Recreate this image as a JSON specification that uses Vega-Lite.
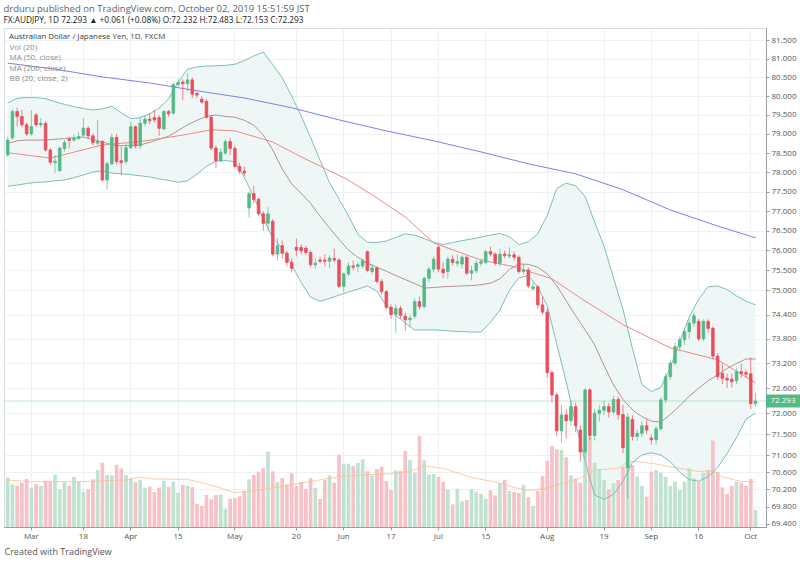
{
  "$schema": "https://vega.github.io/schema/vega-lite/v6.json",
  "width": 762,
  "height": 499,
  "autosize": {"type": "none"},
  "padding": {"left": 4, "top": 28, "right": 34, "bottom": 38},
  "background": "white",
  "title": {
    "text": "drduru published on TradingView.com, October 02, 2019 15:51:59 JST",
    "subtitle": "FX:AUDJPY, 1D  72.293 ▲ +0.061 (+0.08%)  O:72.232  H:72.483  L:72.153  C:72.293",
    "anchor": "start",
    "offset": 4,
    "font": "Open Sans",
    "fontSize": 9.5,
    "fontWeight": "normal",
    "color": "#5d606b",
    "subtitleFont": "Open Sans",
    "subtitleFontSize": 8.3,
    "subtitleFontWeight": "normal",
    "subtitleColor": "#222222",
    "subtitlePadding": 2
  },
  "datasets": {
    "candles": [
      {"d":"2019-02-22","o":78.45,"h":78.92,"l":78.40,"c":78.84,"v":49300},
      {"d":"2019-02-25","o":78.90,"h":79.65,"l":78.85,"c":79.59,"v":42700},
      {"d":"2019-02-26","o":79.59,"h":79.70,"l":79.20,"c":79.46,"v":41000},
      {"d":"2019-02-27","o":79.46,"h":79.63,"l":79.18,"c":79.24,"v":44300},
      {"d":"2019-02-28","o":79.24,"h":79.30,"l":78.95,"c":79.00,"v":48000},
      {"d":"2019-03-01","o":79.00,"h":79.63,"l":78.95,"c":79.19,"v":39300},
      {"d":"2019-03-04","o":79.50,"h":79.55,"l":79.18,"c":79.24,"v":43000},
      {"d":"2019-03-05","o":79.24,"h":79.42,"l":79.17,"c":79.28,"v":41300},
      {"d":"2019-03-06","o":79.28,"h":79.33,"l":78.54,"c":78.58,"v":46300},
      {"d":"2019-03-07","o":78.58,"h":78.63,"l":78.19,"c":78.26,"v":45300},
      {"d":"2019-03-08","o":78.25,"h":78.45,"l":77.98,"c":78.29,"v":52300},
      {"d":"2019-03-11","o":78.04,"h":78.67,"l":78.02,"c":78.63,"v":37700},
      {"d":"2019-03-12","o":78.62,"h":78.84,"l":78.54,"c":78.77,"v":44700},
      {"d":"2019-03-13","o":78.87,"h":78.93,"l":78.63,"c":78.83,"v":41300},
      {"d":"2019-03-14","o":78.84,"h":79.00,"l":78.80,"c":78.89,"v":50000},
      {"d":"2019-03-15","o":78.88,"h":79.05,"l":78.85,"c":78.93,"v":45300},
      {"d":"2019-03-18","o":78.97,"h":79.42,"l":78.93,"c":79.15,"v":35300},
      {"d":"2019-03-19","o":79.15,"h":79.20,"l":78.88,"c":78.95,"v":37700},
      {"d":"2019-03-20","o":78.95,"h":79.02,"l":78.70,"c":78.77,"v":47700},
      {"d":"2019-03-21","o":78.76,"h":79.37,"l":78.69,"c":78.81,"v":57000},
      {"d":"2019-03-22","o":78.80,"h":78.84,"l":77.76,"c":77.80,"v":64300},
      {"d":"2019-03-25","o":77.80,"h":78.28,"l":77.56,"c":78.22,"v":52000},
      {"d":"2019-03-26","o":78.22,"h":79.00,"l":78.18,"c":78.91,"v":51700},
      {"d":"2019-03-27","o":78.91,"h":79.00,"l":78.20,"c":78.28,"v":62300},
      {"d":"2019-03-28","o":78.30,"h":78.67,"l":77.93,"c":78.25,"v":58700},
      {"d":"2019-03-29","o":78.28,"h":78.75,"l":78.20,"c":78.64,"v":52000},
      {"d":"2019-04-01","o":78.64,"h":79.33,"l":78.60,"c":79.19,"v":48700},
      {"d":"2019-04-02","o":79.19,"h":79.22,"l":78.62,"c":78.69,"v":44700},
      {"d":"2019-04-03","o":78.69,"h":79.45,"l":78.60,"c":79.28,"v":47300},
      {"d":"2019-04-04","o":79.28,"h":79.50,"l":79.20,"c":79.39,"v":39300},
      {"d":"2019-04-05","o":79.39,"h":79.55,"l":79.25,"c":79.35,"v":40300},
      {"d":"2019-04-08","o":79.43,"h":79.63,"l":79.30,"c":79.37,"v":35000},
      {"d":"2019-04-09","o":79.43,"h":79.50,"l":78.95,"c":79.15,"v":39300},
      {"d":"2019-04-10","o":79.13,"h":79.63,"l":79.10,"c":79.59,"v":46300},
      {"d":"2019-04-11","o":79.59,"h":79.63,"l":79.45,"c":79.53,"v":40000},
      {"d":"2019-04-12","o":79.55,"h":80.36,"l":79.50,"c":80.31,"v":45300},
      {"d":"2019-04-15","o":80.31,"h":80.45,"l":80.25,"c":80.36,"v":34300},
      {"d":"2019-04-16","o":80.37,"h":80.45,"l":79.90,"c":80.33,"v":42000},
      {"d":"2019-04-17","o":80.33,"h":80.62,"l":80.12,"c":80.43,"v":41000},
      {"d":"2019-04-18","o":80.43,"h":80.50,"l":79.95,"c":80.05,"v":39700},
      {"d":"2019-04-19","o":80.07,"h":80.12,"l":79.95,"c":80.03,"v":23300},
      {"d":"2019-04-22","o":79.92,"h":80.00,"l":79.80,"c":79.84,"v":21000},
      {"d":"2019-04-23","o":79.86,"h":79.92,"l":79.40,"c":79.44,"v":32000},
      {"d":"2019-04-24","o":79.44,"h":79.50,"l":78.57,"c":78.63,"v":27700},
      {"d":"2019-04-25","o":78.63,"h":78.70,"l":78.11,"c":78.30,"v":32000},
      {"d":"2019-04-26","o":78.30,"h":78.62,"l":78.25,"c":78.52,"v":32300},
      {"d":"2019-04-29","o":78.50,"h":78.85,"l":78.45,"c":78.80,"v":18300},
      {"d":"2019-04-30","o":78.80,"h":78.90,"l":78.45,"c":78.62,"v":28300},
      {"d":"2019-05-01","o":78.62,"h":78.70,"l":78.10,"c":78.15,"v":29000},
      {"d":"2019-05-02","o":78.15,"h":78.25,"l":77.95,"c":78.03,"v":30700},
      {"d":"2019-05-03","o":78.03,"h":78.15,"l":77.90,"c":77.98,"v":36300},
      {"d":"2019-05-06","o":77.08,"h":77.50,"l":76.83,"c":77.45,"v":47700},
      {"d":"2019-05-07","o":77.45,"h":77.65,"l":77.20,"c":77.30,"v":52000},
      {"d":"2019-05-08","o":77.30,"h":77.35,"l":76.88,"c":76.93,"v":55300},
      {"d":"2019-05-09","o":76.93,"h":77.00,"l":76.50,"c":76.69,"v":59000},
      {"d":"2019-05-10","o":76.69,"h":77.10,"l":76.50,"c":76.93,"v":75300},
      {"d":"2019-05-13","o":76.74,"h":76.80,"l":75.85,"c":75.91,"v":55700},
      {"d":"2019-05-14","o":75.91,"h":76.30,"l":75.75,"c":76.12,"v":45000},
      {"d":"2019-05-15","o":76.12,"h":76.25,"l":75.80,"c":75.93,"v":49000},
      {"d":"2019-05-16","o":75.93,"h":76.00,"l":75.60,"c":75.70,"v":42700},
      {"d":"2019-05-17","o":75.70,"h":75.80,"l":75.45,"c":75.55,"v":53700},
      {"d":"2019-05-20","o":76.08,"h":76.30,"l":75.85,"c":76.01,"v":41000},
      {"d":"2019-05-21","o":76.08,"h":76.15,"l":75.90,"c":75.99,"v":45000},
      {"d":"2019-05-22","o":76.06,"h":76.12,"l":75.88,"c":75.95,"v":38300},
      {"d":"2019-05-23","o":75.95,"h":76.00,"l":75.58,"c":75.64,"v":48700},
      {"d":"2019-05-24","o":75.64,"h":75.80,"l":75.55,"c":75.68,"v":39300},
      {"d":"2019-05-27","o":75.76,"h":75.85,"l":75.68,"c":75.73,"v":28000},
      {"d":"2019-05-28","o":75.76,"h":75.90,"l":75.60,"c":75.73,"v":47000},
      {"d":"2019-05-29","o":75.73,"h":75.88,"l":75.55,"c":75.81,"v":51700},
      {"d":"2019-05-30","o":75.80,"h":76.05,"l":75.70,"c":75.76,"v":44300},
      {"d":"2019-05-31","o":75.76,"h":75.80,"l":75.05,"c":75.10,"v":72300},
      {"d":"2019-06-03","o":75.10,"h":75.45,"l":74.95,"c":75.41,"v":63300},
      {"d":"2019-06-04","o":75.41,"h":75.70,"l":75.35,"c":75.61,"v":63300},
      {"d":"2019-06-05","o":75.61,"h":75.75,"l":75.50,"c":75.58,"v":61000},
      {"d":"2019-06-06","o":75.60,"h":75.70,"l":75.45,"c":75.64,"v":64000},
      {"d":"2019-06-07","o":75.61,"h":75.80,"l":75.55,"c":75.74,"v":67700},
      {"d":"2019-06-10","o":75.97,"h":76.00,"l":75.45,"c":75.50,"v":55700},
      {"d":"2019-06-11","o":75.47,"h":75.65,"l":75.40,"c":75.56,"v":51300},
      {"d":"2019-06-12","o":75.56,"h":75.60,"l":75.18,"c":75.22,"v":58000},
      {"d":"2019-06-13","o":75.22,"h":75.28,"l":74.90,"c":74.97,"v":60300},
      {"d":"2019-06-14","o":74.97,"h":75.00,"l":74.52,"c":74.58,"v":46000},
      {"d":"2019-06-17","o":74.58,"h":74.65,"l":74.30,"c":74.40,"v":37000},
      {"d":"2019-06-18","o":74.40,"h":74.65,"l":73.94,"c":74.55,"v":56700},
      {"d":"2019-06-19","o":74.55,"h":74.62,"l":74.30,"c":74.38,"v":56000},
      {"d":"2019-06-20","o":74.36,"h":74.45,"l":74.00,"c":74.27,"v":76000},
      {"d":"2019-06-21","o":74.27,"h":74.40,"l":74.10,"c":74.31,"v":67000},
      {"d":"2019-06-24","o":74.36,"h":74.80,"l":74.30,"c":74.72,"v":54300},
      {"d":"2019-06-25","o":74.72,"h":74.85,"l":74.52,"c":74.60,"v":91000},
      {"d":"2019-06-26","o":74.60,"h":75.35,"l":74.55,"c":75.30,"v":66700},
      {"d":"2019-06-27","o":75.30,"h":75.60,"l":75.20,"c":75.53,"v":52300},
      {"d":"2019-06-28","o":75.53,"h":75.85,"l":75.45,"c":75.78,"v":53000},
      {"d":"2019-07-01","o":76.08,"h":76.14,"l":75.45,"c":75.53,"v":50300},
      {"d":"2019-07-02","o":75.53,"h":75.70,"l":75.30,"c":75.44,"v":45000},
      {"d":"2019-07-03","o":75.47,"h":75.85,"l":75.30,"c":75.78,"v":37300},
      {"d":"2019-07-04","o":75.78,"h":75.88,"l":75.62,"c":75.70,"v":22700},
      {"d":"2019-07-05","o":75.68,"h":75.90,"l":75.60,"c":75.72,"v":38300},
      {"d":"2019-07-08","o":75.66,"h":75.88,"l":75.55,"c":75.83,"v":25700},
      {"d":"2019-07-09","o":75.83,"h":75.88,"l":75.38,"c":75.43,"v":27000},
      {"d":"2019-07-10","o":75.43,"h":75.62,"l":75.25,"c":75.49,"v":38000},
      {"d":"2019-07-11","o":75.49,"h":75.75,"l":75.42,"c":75.68,"v":35300},
      {"d":"2019-07-12","o":75.68,"h":75.80,"l":75.60,"c":75.72,"v":33300},
      {"d":"2019-07-15","o":75.70,"h":76.02,"l":75.65,"c":75.97,"v":28000},
      {"d":"2019-07-16","o":75.97,"h":76.10,"l":75.85,"c":75.91,"v":36700},
      {"d":"2019-07-17","o":75.91,"h":75.95,"l":75.62,"c":75.68,"v":31700},
      {"d":"2019-07-18","o":75.68,"h":76.05,"l":75.60,"c":75.91,"v":44000},
      {"d":"2019-07-19","o":75.91,"h":76.00,"l":75.80,"c":75.87,"v":47000},
      {"d":"2019-07-22","o":75.86,"h":76.08,"l":75.80,"c":75.89,"v":36000},
      {"d":"2019-07-23","o":75.89,"h":75.98,"l":75.75,"c":75.83,"v":35000},
      {"d":"2019-07-24","o":75.83,"h":75.88,"l":75.42,"c":75.47,"v":34300},
      {"d":"2019-07-25","o":75.47,"h":75.65,"l":75.40,"c":75.51,"v":42000},
      {"d":"2019-07-26","o":75.51,"h":75.58,"l":75.05,"c":75.11,"v":29700},
      {"d":"2019-07-29","o":75.04,"h":75.20,"l":74.98,"c":75.09,"v":21000},
      {"d":"2019-07-30","o":75.09,"h":75.12,"l":74.55,"c":74.64,"v":36300},
      {"d":"2019-07-31","o":74.64,"h":74.85,"l":74.40,"c":74.46,"v":51000},
      {"d":"2019-08-01","o":74.46,"h":74.55,"l":72.85,"c":72.98,"v":66300},
      {"d":"2019-08-02","o":72.98,"h":73.05,"l":72.25,"c":72.44,"v":81000},
      {"d":"2019-08-05","o":72.44,"h":72.50,"l":71.45,"c":71.58,"v":77700},
      {"d":"2019-08-06","o":71.58,"h":72.20,"l":71.30,"c":71.96,"v":77000},
      {"d":"2019-08-07","o":71.96,"h":72.10,"l":71.40,"c":71.82,"v":69700},
      {"d":"2019-08-08","o":71.82,"h":72.30,"l":71.70,"c":72.16,"v":51700},
      {"d":"2019-08-09","o":72.16,"h":72.25,"l":71.55,"c":71.70,"v":48300},
      {"d":"2019-08-12","o":71.60,"h":71.70,"l":70.85,"c":71.08,"v":44300},
      {"d":"2019-08-13","o":71.08,"h":72.60,"l":70.95,"c":72.56,"v":90300},
      {"d":"2019-08-14","o":72.56,"h":72.60,"l":71.35,"c":71.47,"v":90300},
      {"d":"2019-08-15","o":71.47,"h":72.10,"l":71.35,"c":72.00,"v":64300},
      {"d":"2019-08-16","o":72.00,"h":72.20,"l":71.80,"c":72.07,"v":57000},
      {"d":"2019-08-19","o":72.07,"h":72.30,"l":71.95,"c":72.16,"v":47000},
      {"d":"2019-08-20","o":72.16,"h":72.25,"l":71.90,"c":72.03,"v":37700},
      {"d":"2019-08-21","o":72.03,"h":72.42,"l":71.98,"c":72.33,"v":43700},
      {"d":"2019-08-22","o":72.33,"h":72.40,"l":71.85,"c":71.97,"v":47000},
      {"d":"2019-08-23","o":71.97,"h":72.20,"l":71.05,"c":71.18,"v":60300},
      {"d":"2019-08-26","o":70.71,"h":72.00,"l":70.00,"c":71.91,"v":93700},
      {"d":"2019-08-27","o":71.85,"h":71.95,"l":71.35,"c":71.45,"v":62000},
      {"d":"2019-08-28","o":71.45,"h":71.62,"l":71.35,"c":71.52,"v":50300},
      {"d":"2019-08-29","o":71.52,"h":71.80,"l":71.45,"c":71.70,"v":41000},
      {"d":"2019-08-30","o":71.70,"h":71.85,"l":71.50,"c":71.60,"v":30300},
      {"d":"2019-09-02","o":71.41,"h":71.50,"l":71.25,"c":71.37,"v":55300},
      {"d":"2019-09-03","o":71.37,"h":71.70,"l":71.25,"c":71.63,"v":57000},
      {"d":"2019-09-04","o":71.63,"h":72.38,"l":71.58,"c":72.32,"v":54300},
      {"d":"2019-09-05","o":72.32,"h":72.95,"l":72.25,"c":72.88,"v":50300},
      {"d":"2019-09-06","o":72.88,"h":73.28,"l":72.80,"c":73.21,"v":41000},
      {"d":"2019-09-09","o":73.21,"h":73.70,"l":73.15,"c":73.61,"v":45300},
      {"d":"2019-09-10","o":73.61,"h":73.85,"l":73.50,"c":73.78,"v":37000},
      {"d":"2019-09-11","o":73.78,"h":74.05,"l":73.65,"c":73.98,"v":45300},
      {"d":"2019-09-12","o":73.98,"h":74.28,"l":73.80,"c":74.19,"v":58700},
      {"d":"2019-09-13","o":74.19,"h":74.45,"l":74.10,"c":74.37,"v":48700},
      {"d":"2019-09-16","o":74.23,"h":74.30,"l":73.75,"c":73.80,"v":45300},
      {"d":"2019-09-17","o":73.80,"h":74.28,"l":73.75,"c":74.23,"v":54300},
      {"d":"2019-09-18","o":74.23,"h":74.28,"l":73.95,"c":74.06,"v":57000},
      {"d":"2019-09-19","o":74.06,"h":74.10,"l":73.30,"c":73.38,"v":86300},
      {"d":"2019-09-20","o":73.38,"h":73.45,"l":72.80,"c":72.88,"v":55300},
      {"d":"2019-09-23","o":72.96,"h":73.20,"l":72.70,"c":72.84,"v":39700},
      {"d":"2019-09-24","o":72.84,"h":72.95,"l":72.60,"c":72.80,"v":33000},
      {"d":"2019-09-25","o":72.82,"h":72.95,"l":72.62,"c":72.76,"v":41000},
      {"d":"2019-09-26","o":72.78,"h":73.10,"l":72.70,"c":73.00,"v":45300},
      {"d":"2019-09-27","o":73.00,"h":73.20,"l":72.85,"c":72.96,"v":44300},
      {"d":"2019-09-30","o":72.98,"h":73.05,"l":72.85,"c":72.94,"v":41000},
      {"d":"2019-10-01","o":72.95,"h":73.35,"l":72.10,"c":72.23,"v":48000},
      {"d":"2019-10-02","o":72.232,"h":72.483,"l":72.153,"c":72.293,"v":17000}
    ],
    "bb": [
      {"d":"2019-02-22","u":79.82,"m":78.75,"l":77.64},
      {"d":"2019-02-26","u":79.94,"m":78.82,"l":77.67},
      {"d":"2019-02-28","u":79.96,"m":78.84,"l":77.71},
      {"d":"2019-03-04","u":79.96,"m":78.84,"l":77.74},
      {"d":"2019-03-06","u":79.93,"m":78.84,"l":77.75},
      {"d":"2019-03-08","u":79.85,"m":78.86,"l":77.78},
      {"d":"2019-03-12","u":79.78,"m":78.88,"l":77.80},
      {"d":"2019-03-14","u":79.72,"m":78.90,"l":77.86},
      {"d":"2019-03-18","u":79.67,"m":78.92,"l":77.93},
      {"d":"2019-03-20","u":79.63,"m":78.85,"l":78.01},
      {"d":"2019-03-22","u":79.66,"m":78.79,"l":78.04},
      {"d":"2019-03-26","u":79.73,"m":78.72,"l":77.98},
      {"d":"2019-03-28","u":79.56,"m":78.69,"l":77.96},
      {"d":"2019-04-01","u":79.40,"m":78.70,"l":77.94},
      {"d":"2019-04-03","u":79.43,"m":78.71,"l":77.91},
      {"d":"2019-04-05","u":79.53,"m":78.78,"l":77.88},
      {"d":"2019-04-09","u":79.68,"m":78.86,"l":77.83},
      {"d":"2019-04-11","u":79.93,"m":78.94,"l":77.79},
      {"d":"2019-04-15","u":80.37,"m":79.09,"l":77.74},
      {"d":"2019-04-17","u":80.72,"m":79.24,"l":77.78},
      {"d":"2019-04-19","u":80.78,"m":79.36,"l":77.95},
      {"d":"2019-04-23","u":80.80,"m":79.46,"l":78.16},
      {"d":"2019-04-25","u":80.81,"m":79.50,"l":78.29},
      {"d":"2019-04-29","u":80.82,"m":79.46,"l":78.31},
      {"d":"2019-05-01","u":80.85,"m":79.44,"l":78.27},
      {"d":"2019-05-03","u":80.95,"m":79.36,"l":77.87},
      {"d":"2019-05-07","u":81.07,"m":79.23,"l":77.36},
      {"d":"2019-05-09","u":81.18,"m":78.97,"l":76.81},
      {"d":"2019-05-13","u":80.84,"m":78.58,"l":76.31},
      {"d":"2019-05-15","u":80.49,"m":78.09,"l":76.06},
      {"d":"2019-05-17","u":80.00,"m":77.70,"l":75.64},
      {"d":"2019-05-21","u":79.48,"m":77.46,"l":75.20},
      {"d":"2019-05-23","u":78.91,"m":77.20,"l":74.83},
      {"d":"2019-05-27","u":78.31,"m":76.87,"l":74.73},
      {"d":"2019-05-29","u":77.73,"m":76.57,"l":74.80},
      {"d":"2019-05-31","u":77.31,"m":76.28,"l":74.88},
      {"d":"2019-06-04","u":76.88,"m":76.01,"l":74.96},
      {"d":"2019-06-06","u":76.41,"m":75.83,"l":75.03},
      {"d":"2019-06-10","u":76.21,"m":75.68,"l":75.11},
      {"d":"2019-06-12","u":76.20,"m":75.58,"l":74.98},
      {"d":"2019-06-14","u":76.24,"m":75.48,"l":74.62},
      {"d":"2019-06-18","u":76.33,"m":75.37,"l":74.38},
      {"d":"2019-06-20","u":76.42,"m":75.27,"l":74.19},
      {"d":"2019-06-24","u":76.39,"m":75.17,"l":74.02},
      {"d":"2019-06-26","u":76.30,"m":75.06,"l":74.02},
      {"d":"2019-06-28","u":76.21,"m":75.07,"l":74.02},
      {"d":"2019-07-02","u":76.15,"m":75.09,"l":74.01},
      {"d":"2019-07-04","u":76.20,"m":75.10,"l":73.99},
      {"d":"2019-07-08","u":76.25,"m":75.11,"l":73.98},
      {"d":"2019-07-10","u":76.29,"m":75.12,"l":73.97},
      {"d":"2019-07-12","u":76.34,"m":75.14,"l":73.97},
      {"d":"2019-07-16","u":76.39,"m":75.18,"l":74.21},
      {"d":"2019-07-18","u":76.43,"m":75.29,"l":74.51},
      {"d":"2019-07-22","u":76.35,"m":75.52,"l":75.00},
      {"d":"2019-07-24","u":76.15,"m":75.66,"l":75.31},
      {"d":"2019-07-26","u":76.22,"m":75.65,"l":75.37},
      {"d":"2019-07-30","u":76.42,"m":75.58,"l":75.08},
      {"d":"2019-08-01","u":76.89,"m":75.41,"l":74.62},
      {"d":"2019-08-05","u":77.58,"m":75.12,"l":73.68},
      {"d":"2019-08-07","u":77.72,"m":74.74,"l":72.76},
      {"d":"2019-08-09","u":77.65,"m":74.37,"l":71.75},
      {"d":"2019-08-13","u":77.38,"m":74.02,"l":70.86},
      {"d":"2019-08-15","u":76.72,"m":73.66,"l":70.07},
      {"d":"2019-08-19","u":76.11,"m":73.15,"l":69.97},
      {"d":"2019-08-21","u":75.31,"m":72.68,"l":70.08},
      {"d":"2019-08-23","u":74.53,"m":72.33,"l":70.39},
      {"d":"2019-08-27","u":73.57,"m":72.08,"l":70.83},
      {"d":"2019-08-29","u":72.69,"m":71.92,"l":71.01},
      {"d":"2019-09-02","u":72.52,"m":71.81,"l":71.06},
      {"d":"2019-09-04","u":72.62,"m":71.79,"l":71.01},
      {"d":"2019-09-06","u":73.11,"m":71.97,"l":70.85},
      {"d":"2019-09-10","u":73.74,"m":72.18,"l":70.60},
      {"d":"2019-09-12","u":74.34,"m":72.41,"l":70.43},
      {"d":"2019-09-16","u":74.78,"m":72.60,"l":70.39},
      {"d":"2019-09-18","u":75.09,"m":72.78,"l":70.50},
      {"d":"2019-09-20","u":75.11,"m":72.92,"l":70.71},
      {"d":"2019-09-24","u":75.02,"m":73.08,"l":71.04},
      {"d":"2019-09-26","u":74.86,"m":73.20,"l":71.42},
      {"d":"2019-09-30","u":74.73,"m":73.31,"l":71.86},
      {"d":"2019-10-02","u":74.64,"m":73.31,"l":72.00}
    ],
    "ma50": [
      {"d":"2019-02-22","ma":78.51},
      {"d":"2019-03-07","ma":78.37},
      {"d":"2019-03-22","ma":78.71},
      {"d":"2019-04-03","ma":78.80},
      {"d":"2019-04-16","ma":78.97},
      {"d":"2019-04-24","ma":79.11},
      {"d":"2019-05-01","ma":79.08},
      {"d":"2019-05-13","ma":78.79},
      {"d":"2019-05-21","ma":78.40},
      {"d":"2019-06-04","ma":77.80},
      {"d":"2019-06-12","ma":77.34},
      {"d":"2019-06-20","ma":76.85},
      {"d":"2019-06-28","ma":76.19},
      {"d":"2019-07-12","ma":75.76},
      {"d":"2019-07-23","ma":75.59},
      {"d":"2019-08-02","ma":75.29},
      {"d":"2019-08-12","ma":74.81},
      {"d":"2019-08-23","ma":74.15},
      {"d":"2019-09-06","ma":73.58},
      {"d":"2019-09-20","ma":73.29},
      {"d":"2019-10-02","ma":72.73}
    ],
    "ma200": [
      {"d":"2019-02-22","ma":80.88},
      {"d":"2019-03-08","ma":80.72},
      {"d":"2019-03-22","ma":80.51},
      {"d":"2019-04-05","ma":80.35},
      {"d":"2019-04-19","ma":80.14},
      {"d":"2019-05-03","ma":79.95},
      {"d":"2019-05-17","ma":79.69},
      {"d":"2019-05-31","ma":79.37},
      {"d":"2019-06-14","ma":79.08},
      {"d":"2019-06-28","ma":78.82},
      {"d":"2019-07-12","ma":78.53},
      {"d":"2019-07-26","ma":78.22},
      {"d":"2019-08-09","ma":77.96},
      {"d":"2019-08-23","ma":77.55},
      {"d":"2019-09-06","ma":77.03},
      {"d":"2019-09-20","ma":76.62},
      {"d":"2019-10-02","ma":76.32}
    ],
    "vma": [
      {"d":"2019-02-22","vm":47000},
      {"d":"2019-03-01","vm":45300},
      {"d":"2019-03-15","vm":45300},
      {"d":"2019-03-29","vm":47000},
      {"d":"2019-04-03","vm":49700},
      {"d":"2019-04-08","vm":48000},
      {"d":"2019-04-17","vm":47700},
      {"d":"2019-04-23","vm":43000},
      {"d":"2019-04-26","vm":39000},
      {"d":"2019-05-01","vm":34300},
      {"d":"2019-05-08","vm":37000},
      {"d":"2019-05-13","vm":39000},
      {"d":"2019-05-21","vm":44000},
      {"d":"2019-05-31","vm":50300},
      {"d":"2019-06-07","vm":52000},
      {"d":"2019-06-14","vm":53000},
      {"d":"2019-06-21","vm":55500},
      {"d":"2019-06-26","vm":61000},
      {"d":"2019-07-02","vm":58700},
      {"d":"2019-07-10","vm":49500},
      {"d":"2019-07-17","vm":45000},
      {"d":"2019-07-23","vm":39500},
      {"d":"2019-07-26","vm":36500},
      {"d":"2019-08-01","vm":39000},
      {"d":"2019-08-12","vm":49000},
      {"d":"2019-08-15","vm":57000},
      {"d":"2019-08-22","vm":58700},
      {"d":"2019-08-26","vm":65000},
      {"d":"2019-08-28","vm":65500},
      {"d":"2019-09-03","vm":63000},
      {"d":"2019-09-09","vm":59500},
      {"d":"2019-09-16","vm":55500},
      {"d":"2019-09-19","vm":56300},
      {"d":"2019-09-23","vm":50000},
      {"d":"2019-09-27","vm":45500},
      {"d":"2019-10-02","vm":45300}
    ],
    "last": [{"p": 72.293, "t": "72.293"}]
  },
  "layer": [
    {
      "data": {"name": "bb"},
      "mark": {"type": "area", "color": "#eff7f6", "opacity": 1},
      "encoding": {
        "x": {"field": "d", "type": "ordinal", "bandPosition": 0.5, "scale": {"type": "band", "paddingInner": 0, "paddingOuter": 1.355, "align": 0.14},
          "axis": {"values": ["2019-03-01", "2019-03-18", "2019-04-01", "2019-04-15", "2019-05-01", "2019-05-20", "2019-06-03", "2019-06-17", "2019-07-01", "2019-07-15", "2019-08-01", "2019-08-19", "2019-09-02", "2019-09-16", "2019-10-01"], "labelExpr": "toNumber(substring(datum.value, 8, 10)) <= 3 ? utcFormat(toDate(datum.value), '%b') : '' + toNumber(substring(datum.value, 8, 10))", "labelAngle": 0, "grid": true, "bandPosition": 0.5, "tickSize": 3, "labelPadding": 2, "title": "Created with TradingView", "titleAnchor": "start", "titleAlign": "left", "titleFontSize": 9, "titleFontWeight": "normal", "titleColor": "#555555", "titlePadding": 7, "titleFont": "Open Sans"}},
        "y": {"field": "l", "type": "quantitative", "scale": {"type": "log", "domain": [69.33, 81.83], "nice": false, "zero": false}, "axis": null},
        "y2": {"field": "u"}
      }
    },
    {
      "data": {"name": "candles"},
      "mark": {"type": "bar", "width": 3.7},
      "encoding": {
        "x": {"field": "d", "type": "ordinal", "scale": {"type": "band", "paddingInner": 0, "paddingOuter": 1.355, "align": 0.14},
          "axis": {"values": ["2019-03-01", "2019-03-18", "2019-04-01", "2019-04-15", "2019-05-01", "2019-05-20", "2019-06-03", "2019-06-17", "2019-07-01", "2019-07-15", "2019-08-01", "2019-08-19", "2019-09-02", "2019-09-16", "2019-10-01"], "labelExpr": "toNumber(substring(datum.value, 8, 10)) <= 3 ? utcFormat(toDate(datum.value), '%b') : '' + toNumber(substring(datum.value, 8, 10))", "labelAngle": 0, "grid": true, "bandPosition": 0.5, "tickSize": 3, "labelPadding": 2, "title": "Created with TradingView", "titleAnchor": "start", "titleAlign": "left", "titleFontSize": 9, "titleFontWeight": "normal", "titleColor": "#555555", "titlePadding": 7, "titleFont": "Open Sans"}},
        "y": {"field": "v", "type": "quantitative", "scale": {"domain": [0, 499000], "nice": false}, "axis": null},
        "color": {"condition": {"test": "datum.c >= datum.o", "value": "#bfe3d0"}, "value": "#f7c1c7"}
      }
    },
    {
      "data": {"name": "vma"},
      "mark": {"type": "line", "strokeWidth": 1, "opacity": 0.8},
      "encoding": {
        "x": {"field": "d", "type": "ordinal", "bandPosition": 0.5, "scale": {"type": "band", "paddingInner": 0, "paddingOuter": 1.355, "align": 0.14},
          "axis": {"values": ["2019-03-01", "2019-03-18", "2019-04-01", "2019-04-15", "2019-05-01", "2019-05-20", "2019-06-03", "2019-06-17", "2019-07-01", "2019-07-15", "2019-08-01", "2019-08-19", "2019-09-02", "2019-09-16", "2019-10-01"], "labelExpr": "toNumber(substring(datum.value, 8, 10)) <= 3 ? utcFormat(toDate(datum.value), '%b') : '' + toNumber(substring(datum.value, 8, 10))", "labelAngle": 0, "grid": true, "bandPosition": 0.5, "tickSize": 3, "labelPadding": 2, "title": "Created with TradingView", "titleAnchor": "start", "titleAlign": "left", "titleFontSize": 9, "titleFontWeight": "normal", "titleColor": "#555555", "titlePadding": 7, "titleFont": "Open Sans"}},
        "y": {"field": "vm", "type": "quantitative", "scale": {"domain": [0, 499000], "nice": false}, "axis": null},
        "color": {"datum": "Vol (20)", "scale": {"domain": ["Vol (20)", "MA (50, close)", "MA (200, close)", "BB (20, close, 2)"], "range": ["#fbbf94", "#f08a84", "#7f7ff2", "#80bdb8"]}, "legend": {"title": "Australian Dollar / Japanese Yen, 1D, FXCM"}}
      }
    },
    {
      "data": {"name": "bb"},
      "mark": {"type": "line", "strokeWidth": 1},
      "encoding": {
        "x": {"field": "d", "type": "ordinal", "bandPosition": 0.5, "scale": {"type": "band", "paddingInner": 0, "paddingOuter": 1.355, "align": 0.14},
          "axis": {"values": ["2019-03-01", "2019-03-18", "2019-04-01", "2019-04-15", "2019-05-01", "2019-05-20", "2019-06-03", "2019-06-17", "2019-07-01", "2019-07-15", "2019-08-01", "2019-08-19", "2019-09-02", "2019-09-16", "2019-10-01"], "labelExpr": "toNumber(substring(datum.value, 8, 10)) <= 3 ? utcFormat(toDate(datum.value), '%b') : '' + toNumber(substring(datum.value, 8, 10))", "labelAngle": 0, "grid": true, "bandPosition": 0.5, "tickSize": 3, "labelPadding": 2, "title": "Created with TradingView", "titleAnchor": "start", "titleAlign": "left", "titleFontSize": 9, "titleFontWeight": "normal", "titleColor": "#555555", "titlePadding": 7, "titleFont": "Open Sans"}},
        "y": {"field": "u", "type": "quantitative", "scale": {"type": "log", "domain": [69.33, 81.83], "nice": false, "zero": false}, "axis": null},
        "color": {"datum": "BB (20, close, 2)"}
      }
    },
    {
      "data": {"name": "bb"},
      "mark": {"type": "line", "strokeWidth": 1},
      "encoding": {
        "x": {"field": "d", "type": "ordinal", "bandPosition": 0.5, "scale": {"type": "band", "paddingInner": 0, "paddingOuter": 1.355, "align": 0.14},
          "axis": {"values": ["2019-03-01", "2019-03-18", "2019-04-01", "2019-04-15", "2019-05-01", "2019-05-20", "2019-06-03", "2019-06-17", "2019-07-01", "2019-07-15", "2019-08-01", "2019-08-19", "2019-09-02", "2019-09-16", "2019-10-01"], "labelExpr": "toNumber(substring(datum.value, 8, 10)) <= 3 ? utcFormat(toDate(datum.value), '%b') : '' + toNumber(substring(datum.value, 8, 10))", "labelAngle": 0, "grid": true, "bandPosition": 0.5, "tickSize": 3, "labelPadding": 2, "title": "Created with TradingView", "titleAnchor": "start", "titleAlign": "left", "titleFontSize": 9, "titleFontWeight": "normal", "titleColor": "#555555", "titlePadding": 7, "titleFont": "Open Sans"}},
        "y": {"field": "l", "type": "quantitative", "scale": {"type": "log", "domain": [69.33, 81.83], "nice": false, "zero": false}, "axis": null},
        "color": {"datum": "BB (20, close, 2)"}
      }
    },
    {
      "data": {"name": "bb"},
      "mark": {"type": "line", "strokeWidth": 1, "color": "#b39390"},
      "encoding": {
        "x": {"field": "d", "type": "ordinal", "bandPosition": 0.5, "scale": {"type": "band", "paddingInner": 0, "paddingOuter": 1.355, "align": 0.14},
          "axis": {"values": ["2019-03-01", "2019-03-18", "2019-04-01", "2019-04-15", "2019-05-01", "2019-05-20", "2019-06-03", "2019-06-17", "2019-07-01", "2019-07-15", "2019-08-01", "2019-08-19", "2019-09-02", "2019-09-16", "2019-10-01"], "labelExpr": "toNumber(substring(datum.value, 8, 10)) <= 3 ? utcFormat(toDate(datum.value), '%b') : '' + toNumber(substring(datum.value, 8, 10))", "labelAngle": 0, "grid": true, "bandPosition": 0.5, "tickSize": 3, "labelPadding": 2, "title": "Created with TradingView", "titleAnchor": "start", "titleAlign": "left", "titleFontSize": 9, "titleFontWeight": "normal", "titleColor": "#555555", "titlePadding": 7, "titleFont": "Open Sans"}},
        "y": {"field": "m", "type": "quantitative", "scale": {"type": "log", "domain": [69.33, 81.83], "nice": false, "zero": false}, "axis": null}
      }
    },
    {
      "data": {"name": "ma50"},
      "mark": {"type": "line", "strokeWidth": 1},
      "encoding": {
        "x": {"field": "d", "type": "ordinal", "bandPosition": 0.5, "scale": {"type": "band", "paddingInner": 0, "paddingOuter": 1.355, "align": 0.14},
          "axis": {"values": ["2019-03-01", "2019-03-18", "2019-04-01", "2019-04-15", "2019-05-01", "2019-05-20", "2019-06-03", "2019-06-17", "2019-07-01", "2019-07-15", "2019-08-01", "2019-08-19", "2019-09-02", "2019-09-16", "2019-10-01"], "labelExpr": "toNumber(substring(datum.value, 8, 10)) <= 3 ? utcFormat(toDate(datum.value), '%b') : '' + toNumber(substring(datum.value, 8, 10))", "labelAngle": 0, "grid": true, "bandPosition": 0.5, "tickSize": 3, "labelPadding": 2, "title": "Created with TradingView", "titleAnchor": "start", "titleAlign": "left", "titleFontSize": 9, "titleFontWeight": "normal", "titleColor": "#555555", "titlePadding": 7, "titleFont": "Open Sans"}},
        "y": {"field": "ma", "type": "quantitative", "scale": {"type": "log", "domain": [69.33, 81.83], "nice": false, "zero": false}, "axis": null},
        "color": {"datum": "MA (50, close)"}
      }
    },
    {
      "data": {"name": "ma200"},
      "mark": {"type": "line", "strokeWidth": 1},
      "encoding": {
        "x": {"field": "d", "type": "ordinal", "bandPosition": 0.5, "scale": {"type": "band", "paddingInner": 0, "paddingOuter": 1.355, "align": 0.14},
          "axis": {"values": ["2019-03-01", "2019-03-18", "2019-04-01", "2019-04-15", "2019-05-01", "2019-05-20", "2019-06-03", "2019-06-17", "2019-07-01", "2019-07-15", "2019-08-01", "2019-08-19", "2019-09-02", "2019-09-16", "2019-10-01"], "labelExpr": "toNumber(substring(datum.value, 8, 10)) <= 3 ? utcFormat(toDate(datum.value), '%b') : '' + toNumber(substring(datum.value, 8, 10))", "labelAngle": 0, "grid": true, "bandPosition": 0.5, "tickSize": 3, "labelPadding": 2, "title": "Created with TradingView", "titleAnchor": "start", "titleAlign": "left", "titleFontSize": 9, "titleFontWeight": "normal", "titleColor": "#555555", "titlePadding": 7, "titleFont": "Open Sans"}},
        "y": {"field": "ma", "type": "quantitative", "scale": {"type": "log", "domain": [69.33, 81.83], "nice": false, "zero": false}, "axis": null},
        "color": {"datum": "MA (200, close)"}
      }
    },
    {
      "data": {"name": "last"},
      "mark": {"type": "rule", "color": "#53b987", "opacity": 0.35, "strokeWidth": 1},
      "encoding": {
        "y": {"field": "p", "type": "quantitative", "scale": {"type": "log", "domain": [69.33, 81.83], "nice": false, "zero": false}, "axis": null}
      }
    },
    {
      "data": {"name": "candles"},
      "mark": {"type": "rule", "strokeWidth": 1, "opacity": 0.7},
      "encoding": {
        "x": {"field": "d", "type": "ordinal", "bandPosition": 0.5, "scale": {"type": "band", "paddingInner": 0, "paddingOuter": 1.355, "align": 0.14},
          "axis": {"values": ["2019-03-01", "2019-03-18", "2019-04-01", "2019-04-15", "2019-05-01", "2019-05-20", "2019-06-03", "2019-06-17", "2019-07-01", "2019-07-15", "2019-08-01", "2019-08-19", "2019-09-02", "2019-09-16", "2019-10-01"], "labelExpr": "toNumber(substring(datum.value, 8, 10)) <= 3 ? utcFormat(toDate(datum.value), '%b') : '' + toNumber(substring(datum.value, 8, 10))", "labelAngle": 0, "grid": true, "bandPosition": 0.5, "tickSize": 3, "labelPadding": 2, "title": "Created with TradingView", "titleAnchor": "start", "titleAlign": "left", "titleFontSize": 9, "titleFontWeight": "normal", "titleColor": "#555555", "titlePadding": 7, "titleFont": "Open Sans"}},
        "y": {"field": "l", "type": "quantitative", "scale": {"type": "log", "domain": [69.33, 81.83], "nice": false, "zero": false},
          "axis": {"orient": "right", "title": null, "values": [81.5, 81, 80.5, 80, 79.5, 79, 78.5, 78, 77.5, 77, 76.5, 76, 75.5, 75, 74.4, 73.8, 73.2, 72.6, 72, 71.5, 71, 70.6, 70.2, 69.8, 69.4], "format": ".3f", "grid": true, "tickSize": 3, "labelPadding": 2, "labelOverlap": false, "labelBound": false, "labelFlush": false}},
        "y2": {"field": "h"},
        "color": {"condition": {"test": "datum.c >= datum.o", "value": "#53b987"}, "value": "#eb4d5c"}
      }
    },
    {
      "data": {"name": "candles"},
      "mark": {"type": "bar", "width": 2.6, "strokeWidth": 0.8},
      "encoding": {
        "x": {"field": "d", "type": "ordinal", "scale": {"type": "band", "paddingInner": 0, "paddingOuter": 1.355, "align": 0.14},
          "axis": {"values": ["2019-03-01", "2019-03-18", "2019-04-01", "2019-04-15", "2019-05-01", "2019-05-20", "2019-06-03", "2019-06-17", "2019-07-01", "2019-07-15", "2019-08-01", "2019-08-19", "2019-09-02", "2019-09-16", "2019-10-01"], "labelExpr": "toNumber(substring(datum.value, 8, 10)) <= 3 ? utcFormat(toDate(datum.value), '%b') : '' + toNumber(substring(datum.value, 8, 10))", "labelAngle": 0, "grid": true, "bandPosition": 0.5, "tickSize": 3, "labelPadding": 2, "title": "Created with TradingView", "titleAnchor": "start", "titleAlign": "left", "titleFontSize": 9, "titleFontWeight": "normal", "titleColor": "#555555", "titlePadding": 7, "titleFont": "Open Sans"}},
        "y": {"field": "o", "type": "quantitative", "scale": {"type": "log", "domain": [69.33, 81.83], "nice": false, "zero": false}, "axis": null},
        "y2": {"field": "c"},
        "color": {"condition": {"test": "datum.c >= datum.o", "value": "#53b987"}, "value": "#eb4d5c"},
        "stroke": {"condition": {"test": "datum.c >= datum.o", "value": "#53b987"}, "value": "#eb4d5c"}
      }
    },
    {
      "data": {"name": "last"},
      "mark": {"type": "point", "shape": "M0,-0.43H2.3V0.43H0Z", "size": 900, "filled": true, "color": "#53b987", "opacity": 1},
      "encoding": {
        "x": {"value": "width"},
        "y": {"field": "p", "type": "quantitative", "scale": {"type": "log", "domain": [69.33, 81.83], "nice": false, "zero": false}, "axis": null}
      }
    },
    {
      "data": {"name": "last"},
      "mark": {"type": "text", "dx": 17, "align": "center", "baseline": "middle", "color": "white", "fontSize": 8, "font": "Open Sans"},
      "encoding": {
        "x": {"value": "width"},
        "y": {"field": "p", "type": "quantitative", "scale": {"type": "log", "domain": [69.33, 81.83], "nice": false, "zero": false}, "axis": null},
        "text": {"field": "t"}
      }
    }
  ],
  "resolve": {"scale": {"y": "independent"}},
  "config": {
    "font": "Open Sans",
    "view": {"stroke": "#d8dbe2"},
    "axis": {"gridColor": "#edf0f5", "domainColor": "#9a9ca3", "tickColor": "#9a9ca3", "labelColor": "#555555", "labelFont": "Open Sans", "labelFontSize": 8},
    "legend": {"orient": "top-left", "offset": 5, "padding": 0, "titleFont": "Open Sans", "titleFontSize": 7.9, "titleFontWeight": "normal", "titleColor": "#3c3c3c", "titlePadding": 3, "titleLimit": 400, "labelFont": "Open Sans", "labelFontSize": 8, "labelColor": "#8c8c8c", "labelLimit": 300, "symbolOpacity": 0, "symbolSize": 1, "symbolStrokeWidth": 0, "labelOffset": -7.5, "rowPadding": 2.3}
  }
}
